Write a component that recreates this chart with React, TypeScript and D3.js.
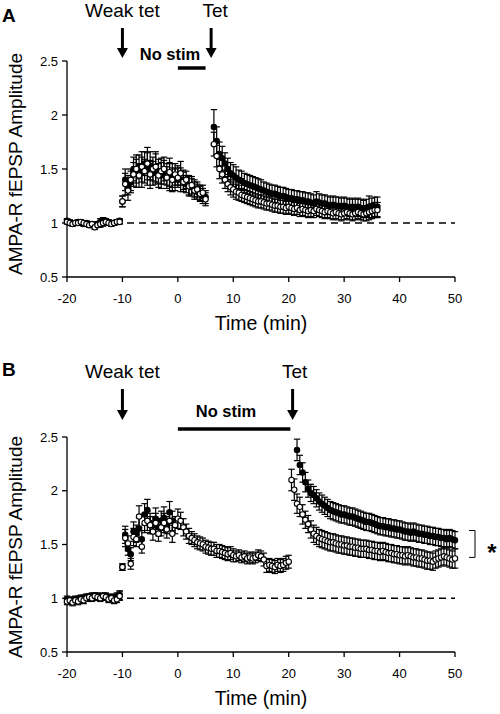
import React from "react";
import * as d3 from "d3";

// ---------- DATA ----------
const xTicks = [-20, -10, 0, 10, 20, 30, 40, 50];
const yTicks = [0.5, 1, 1.5, 2, 2.5];
const yTickLabels = ["0.5", "1", "1.5", "2", "2.5"];

// Panel A segments (0.5-min sampling)
const aBaseStart = -20, aBaseEnd = -10.5;
const aWeakStart = -10, aWeakEnd = 5;
const aTetStart = 6.5, aTetEnd = 36;

const aBaseOpen = [1.01, 1.0, 0.99, 1.0, 1.0, 1.01, 1.0, 0.99, 0.98, 0.99, 0.96, 0.98, 0.99, 1.0, 1.01, 1.0, 0.99, 1.0, 1.01, 1.01];
const aBaseFilled = [1.02, 1.01, 1.0, 1.0, 1.01, 1.0, 0.99, 1.0, 0.99, 0.98, 0.98, 0.99, 1.01, 1.02, 1.02, 1.01, 1.0, 1.0, 1.01, 1.02];
const aBaseErr = [0.02, 0.02, 0.02, 0.02, 0.02, 0.02, 0.02, 0.02, 0.02, 0.02, 0.02, 0.02, 0.03, 0.03, 0.02, 0.02, 0.02, 0.02, 0.02, 0.02];

const aWeakOpen = [1.2, 1.36, 1.3, 1.4, 1.45, 1.5, 1.44, 1.52, 1.48, 1.55, 1.45, 1.5, 1.52, 1.44, 1.48, 1.5, 1.42, 1.47, 1.4, 1.45, 1.42, 1.46, 1.38, 1.4, 1.34, 1.35, 1.3, 1.31, 1.27, 1.28, 1.22];
const aWeakFilled = [1.2, 1.4, 1.35, 1.38, 1.5, 1.46, 1.52, 1.47, 1.55, 1.5, 1.53, 1.46, 1.5, 1.48, 1.44, 1.47, 1.45, 1.43, 1.44, 1.4, 1.44, 1.4, 1.4, 1.36, 1.35, 1.33, 1.32, 1.29, 1.28, 1.25, 1.24];
const aWeakErr = [0.05, 0.1, 0.09, 0.1, 0.11, 0.13, 0.11, 0.14, 0.11, 0.15, 0.13, 0.11, 0.14, 0.11, 0.12, 0.11, 0.1, 0.13, 0.11, 0.1, 0.09, 0.11, 0.09, 0.08, 0.09, 0.08, 0.08, 0.07, 0.07, 0.07, 0.06];

const aTetFilled = [
  1.89, 1.76, 1.64, 1.6, 1.55, 1.5, 1.46, 1.44, 1.42, 1.4,
  1.39, 1.37, 1.36, 1.35, 1.34, 1.33, 1.32, 1.31, 1.3, 1.29,
  1.28, 1.27, 1.27, 1.26, 1.25, 1.25, 1.24, 1.23, 1.23, 1.22,
  1.22, 1.21, 1.21, 1.2, 1.2, 1.19, 1.18, 1.2, 1.19, 1.18,
  1.18, 1.17, 1.16, 1.17, 1.16, 1.16, 1.15, 1.16, 1.15, 1.14,
  1.15, 1.14, 1.15, 1.14, 1.13, 1.14, 1.15, 1.14, 1.15, 1.15,
];
const aTetFilledErr = [
  0.16, 0.13, 0.11, 0.11, 0.1, 0.1, 0.1, 0.1, 0.1, 0.09,
  0.09, 0.09, 0.09, 0.09, 0.09, 0.09, 0.09, 0.09, 0.08, 0.08,
  0.08, 0.08, 0.08, 0.08, 0.08, 0.08, 0.08, 0.08, 0.08, 0.08,
  0.08, 0.08, 0.08, 0.08, 0.08, 0.08, 0.08, 0.09, 0.08, 0.08,
  0.08, 0.08, 0.08, 0.08, 0.08, 0.08, 0.08, 0.08, 0.08, 0.08,
  0.08, 0.08, 0.08, 0.08, 0.08, 0.08, 0.1, 0.09, 0.09, 0.09,
];
const aTetOpen = [
  1.73, 1.62, 1.5, 1.45, 1.4, 1.36, 1.33, 1.31, 1.29, 1.28,
  1.26, 1.25, 1.24, 1.23, 1.22, 1.21, 1.2, 1.2, 1.19, 1.18,
  1.18, 1.17, 1.16, 1.16, 1.15, 1.15, 1.14, 1.15, 1.14, 1.13,
  1.14, 1.12, 1.13, 1.12, 1.11, 1.12, 1.11, 1.13, 1.12, 1.11,
  1.1, 1.11, 1.1, 1.09, 1.1, 1.09, 1.08, 1.09, 1.1, 1.09,
  1.08, 1.09, 1.1, 1.09, 1.08, 1.09, 1.1, 1.11, 1.12, 1.12,
];
const aTetOpenErr = [
  0.11, 0.1, 0.09, 0.08, 0.08, 0.07, 0.07, 0.07, 0.07, 0.07,
  0.06, 0.06, 0.06, 0.06, 0.06, 0.06, 0.06, 0.06, 0.06, 0.06,
  0.06, 0.06, 0.06, 0.06, 0.06, 0.06, 0.06, 0.06, 0.06, 0.06,
  0.06, 0.06, 0.06, 0.06, 0.06, 0.06, 0.06, 0.06, 0.06, 0.06,
  0.06, 0.06, 0.06, 0.06, 0.06, 0.06, 0.06, 0.06, 0.06, 0.06,
  0.06, 0.06, 0.06, 0.06, 0.06, 0.07, 0.07, 0.07, 0.07, 0.07,
];

// Panel B segments
const bBaseStart = -20, bBaseEnd = -10.5;
const bWeakStart = -10, bWeakEnd = 20;
const bWeakFilledEnd = -1;
const bTetOpenStart = 20.5, bTetFilledStart = 21.5, bTetEnd = 50;

const bBaseOpen = [0.97, 0.98, 0.96, 0.98, 0.97, 0.99, 0.98, 1.0, 1.01, 1.0, 1.02, 1.01, 1.0, 1.02, 1.01, 0.99, 1.0, 0.98, 0.99, 1.02];
const bBaseFilled = [0.99, 0.98, 0.98, 0.99, 0.99, 1.0, 1.0, 1.01, 1.01, 1.02, 1.01, 1.02, 1.01, 1.01, 1.02, 1.0, 1.01, 1.0, 1.02, 1.03];
const bBaseErr = [0.03, 0.03, 0.03, 0.03, 0.03, 0.03, 0.03, 0.03, 0.03, 0.03, 0.03, 0.03, 0.03, 0.03, 0.03, 0.03, 0.03, 0.03, 0.03, 0.04];

const bWeakOpen = [
  1.29, 1.56, 1.51, 1.32, 1.57, 1.55, 1.76, 1.48, 1.7, 1.72,
  1.68, 1.62, 1.7, 1.6, 1.66, 1.7, 1.64, 1.72, 1.6, 1.68,
  1.74, 1.72, 1.66, 1.62, 1.58, 1.56, 1.54, 1.52, 1.51, 1.5,
  1.48, 1.47, 1.46, 1.46, 1.44, 1.44, 1.43, 1.42, 1.41, 1.42,
  1.4, 1.39, 1.4, 1.38, 1.39, 1.37, 1.38, 1.37, 1.38, 1.4,
  1.39, 1.36, 1.3, 1.31, 1.3, 1.29, 1.31, 1.3, 1.31, 1.33,
  1.34,
];
const bWeakOpenErr = [
  0.03, 0.08, 0.07, 0.05, 0.08, 0.07, 0.1, 0.06, 0.09, 0.09,
  0.08, 0.08, 0.09, 0.07, 0.08, 0.09, 0.08, 0.09, 0.08, 0.08,
  0.09, 0.08, 0.08, 0.07, 0.07, 0.06, 0.06, 0.06, 0.06, 0.06,
  0.06, 0.06, 0.06, 0.06, 0.06, 0.06, 0.06, 0.06, 0.06, 0.06,
  0.06, 0.05, 0.05, 0.05, 0.05, 0.05, 0.05, 0.05, 0.05, 0.05,
  0.05, 0.06, 0.06, 0.06, 0.06, 0.06, 0.06, 0.06, 0.06, 0.06,
  0.06,
];
const bWeakFilled = [1.29, 1.59, 1.46, 1.41, 1.62, 1.6, 1.65, 1.55, 1.78, 1.82, 1.7, 1.68, 1.74, 1.66, 1.72, 1.75, 1.68, 1.8, 1.72];
const bWeakFilledErr = [0.03, 0.08, 0.06, 0.06, 0.09, 0.08, 0.1, 0.08, 0.1, 0.1, 0.09, 0.08, 0.1, 0.08, 0.09, 0.1, 0.08, 0.1, 0.09];

const bTetOpen = [
  2.1, 2.01, 1.88, 1.85, 1.78, 1.73, 1.69, 1.64, 1.6, 1.58,
  1.56, 1.55, 1.54, 1.53, 1.52, 1.52, 1.51, 1.5, 1.5, 1.49,
  1.49, 1.48, 1.48, 1.47, 1.47, 1.46, 1.46, 1.46, 1.45, 1.45,
  1.44, 1.44, 1.43, 1.44, 1.43, 1.42, 1.42, 1.41, 1.41, 1.4,
  1.4, 1.39, 1.4, 1.39, 1.38, 1.38, 1.37, 1.37, 1.36, 1.35,
  1.35, 1.34, 1.36, 1.37, 1.38, 1.39, 1.38, 1.37, 1.36, 1.37,
];
const bTetOpenErr = [
  0.1, 0.1, 0.09, 0.09, 0.09, 0.08, 0.08, 0.08, 0.08, 0.08,
  0.08, 0.08, 0.08, 0.08, 0.08, 0.08, 0.08, 0.08, 0.08, 0.08,
  0.08, 0.08, 0.08, 0.08, 0.08, 0.08, 0.08, 0.08, 0.08, 0.08,
  0.08, 0.08, 0.08, 0.08, 0.08, 0.08, 0.08, 0.08, 0.08, 0.08,
  0.08, 0.08, 0.08, 0.08, 0.08, 0.08, 0.08, 0.08, 0.08, 0.08,
  0.08, 0.08, 0.08, 0.08, 0.08, 0.08, 0.08, 0.08, 0.08, 0.09,
];
const bTetFilled = [
  2.38, 2.24, 2.17, 2.08, 2.02, 1.98, 1.96, 1.93, 1.9, 1.88,
  1.86, 1.84, 1.82, 1.81, 1.8, 1.79, 1.78, 1.78, 1.77, 1.76,
  1.76, 1.75, 1.74, 1.73, 1.72, 1.71, 1.71, 1.7, 1.69, 1.68,
  1.67, 1.67, 1.66, 1.66, 1.65, 1.65, 1.64, 1.64, 1.63, 1.62,
  1.62, 1.61, 1.62, 1.61, 1.6, 1.6, 1.59, 1.59, 1.58, 1.58,
  1.57, 1.57, 1.56, 1.56, 1.55, 1.56, 1.55, 1.54,
];
const bTetFilledErr = [
  0.1, 0.09, 0.09, 0.09, 0.08, 0.08, 0.08, 0.08, 0.08, 0.08,
  0.08, 0.08, 0.08, 0.08, 0.08, 0.08, 0.08, 0.08, 0.08, 0.08,
  0.08, 0.08, 0.08, 0.08, 0.08, 0.08, 0.08, 0.08, 0.08, 0.08,
  0.08, 0.08, 0.08, 0.08, 0.08, 0.08, 0.08, 0.08, 0.08, 0.08,
  0.08, 0.08, 0.08, 0.08, 0.08, 0.08, 0.08, 0.08, 0.08, 0.08,
  0.08, 0.08, 0.08, 0.08, 0.08, 0.08, 0.08, 0.08,
];

// Annotation times (min)
const aWeakTetTime = -10, aTetTime = 6;
const aNoStim = [0, 5];
const bWeakTetTime = -10, bTetTime = 20.7;
const bNoStim = [0, 20.3];
const bBracket = [1.38, 1.63];

// ---------- HELPERS ----------
type Pt = { t: number; v: number; e: number };
function seg(start: number, end: number, vals: number[], errs: number[]): Pt[] {
  const ts = d3.range(start, end + 0.001, 0.5);
  return vals.map((v, i) => ({ t: ts[i], v, e: errs[i] }));
}

const FONT = "Liberation Sans, Arial, sans-serif";

function Arrow({ x, y1, y2 }: { x: number; y1: number; y2: number }) {
  const head = 10;
  return (
    <g>
      <line x1={x} x2={x} y1={y1} y2={y2 - head + 1} stroke="#000" strokeWidth={3} />
      <path d={`M${x - 5.5},${y2 - head} L${x + 5.5},${y2 - head} L${x},${y2} Z`} fill="#000" />
    </g>
  );
}

function Series({ data, x, y, filled }: { data: Pt[]; x: any; y: any; filled: boolean }) {
  return (
    <g>
      {data.map((d, i) => (
        <g key={"e" + i} stroke="#000" strokeWidth={1.2}>
          <line x1={x(d.t)} x2={x(d.t)} y1={y(d.v - d.e)} y2={y(d.v + d.e)} />
          <line x1={x(d.t) - 3.2} x2={x(d.t) + 3.2} y1={y(d.v + d.e)} y2={y(d.v + d.e)} />
          <line x1={x(d.t) - 3.2} x2={x(d.t) + 3.2} y1={y(d.v - d.e)} y2={y(d.v - d.e)} />
        </g>
      ))}
      {data.map((d, i) => (
        <circle key={"c" + i} cx={x(d.t)} cy={y(d.v)} r={2.7} fill={filled ? "#000" : "#fff"} stroke="#000" strokeWidth={1.1} />
      ))}
    </g>
  );
}

function Axes({ x, y, titleY }: { x: any; y: any; titleY: number }) {
  const [x0, x1] = x.range();
  const [yb, yt] = y.range();
  return (
    <g fontFamily={FONT}>
      <line x1={x0} x2={x0} y1={yt} y2={yb} stroke="#000" strokeWidth={1.3} />
      <line x1={x0} x2={x1} y1={yb} y2={yb} stroke="#000" strokeWidth={1.3} />
      {yTicks.map((t, i) => (
        <g key={"y" + t}>
          <line x1={x0 - 5} x2={x0} y1={y(t)} y2={y(t)} stroke="#000" strokeWidth={1.3} />
          <text x={x0 - 9} y={y(t) + 4.5} textAnchor="end" fontSize={13}>{yTickLabels[i]}</text>
        </g>
      ))}
      {xTicks.map((t) => (
        <g key={"x" + t}>
          <line x1={x(t)} x2={x(t)} y1={yb} y2={yb + 5} stroke="#000" strokeWidth={1.3} />
          <text x={x(t)} y={yb + 26} textAnchor="middle" fontSize={13}>{t}</text>
        </g>
      ))}
      <line x1={x(-20)} x2={x(50)} y1={y(1)} y2={y(1)} stroke="#000" strokeWidth={1.5} strokeDasharray="7,5" />
      <text x={(x0 + x1) / 2} y={yb + 53} textAnchor="middle" fontSize={19.5}>Time (min)</text>
      <text transform={`translate(22,${titleY}) rotate(-90)`} textAnchor="middle" fontSize={19}>AMPA-R fEPSP Amplitude</text>
    </g>
  );
}

export default function App() {
  const x = d3.scaleLinear().domain([-20, 50]).range([67, 455]);
  const yA = d3.scaleLinear().domain([0.5, 2.5]).range([277, 61]);
  const yB = d3.scaleLinear().domain([0.5, 2.5]).range([652, 437]);

  const aFilled = [
    seg(aBaseStart, aBaseEnd, aBaseFilled, aBaseErr),
    seg(aWeakStart, aWeakEnd, aWeakFilled, aWeakErr),
    seg(aTetStart, aTetEnd, aTetFilled, aTetFilledErr),
  ];
  const aOpen = [
    seg(aBaseStart, aBaseEnd, aBaseOpen, aBaseErr),
    seg(aWeakStart, aWeakEnd, aWeakOpen, aWeakErr),
    seg(aTetStart, aTetEnd, aTetOpen, aTetOpenErr),
  ];
  const bFilled = [
    seg(bBaseStart, bBaseEnd, bBaseFilled, bBaseErr),
    seg(bWeakStart, bWeakFilledEnd, bWeakFilled, bWeakFilledErr),
    seg(bTetFilledStart, bTetEnd, bTetFilled, bTetFilledErr),
  ];
  const bOpen = [
    seg(bBaseStart, bBaseEnd, bBaseOpen, bBaseErr),
    seg(bWeakStart, bWeakEnd, bWeakOpen, bWeakOpenErr),
    seg(bTetOpenStart, bTetEnd, bTetOpen, bTetOpenErr),
  ];

  return (
    <svg width={500} height={714} style={{ position: "absolute", left: 0, top: 0, background: "#fff" }} fontFamily={FONT}>
      <rect width={500} height={714} fill="#fff" />
      {/* Panel A */}
      <text x={2} y={22} fontSize={19} fontWeight="bold">A</text>
      <text x={x(aWeakTetTime)} y={17} textAnchor="middle" fontSize={19}>Weak tet</text>
      <text x={x(aTetTime) + 4} y={17} textAnchor="middle" fontSize={19}>Tet</text>
      <Arrow x={x(aWeakTetTime)} y1={28} y2={58} />
      <Arrow x={x(aTetTime)} y1={28} y2={58} />
      <text x={170} y={60} textAnchor="middle" fontSize={16.5} fontWeight="bold">No stim</text>
      <line x1={x(aNoStim[0])} x2={x(aNoStim[1])} y1={68} y2={68} stroke="#000" strokeWidth={3.5} />
      <Axes x={x} y={yA} titleY={164} />
      {aFilled.map((s, i) => <Series key={"af" + i} data={s} x={x} y={yA} filled={true} />)}
      {aOpen.map((s, i) => <Series key={"ao" + i} data={s} x={x} y={yA} filled={false} />)}

      {/* Panel B */}
      <text x={2} y={376} fontSize={19} fontWeight="bold">B</text>
      <text x={x(bWeakTetTime)} y={378} textAnchor="middle" fontSize={19}>Weak tet</text>
      <text x={x(bTetTime) + 2} y={378} textAnchor="middle" fontSize={19}>Tet</text>
      <Arrow x={x(bWeakTetTime)} y1={389} y2={420} />
      <Arrow x={x(bTetTime)} y1={389} y2={420} />
      <text x={226} y={417} textAnchor="middle" fontSize={16.5} fontWeight="bold">No stim</text>
      <line x1={x(bNoStim[0])} x2={x(bNoStim[1])} y1={429} y2={429} stroke="#000" strokeWidth={3.5} />
      <Axes x={x} y={yB} titleY={547} />
      {bFilled.map((s, i) => <Series key={"bf" + i} data={s} x={x} y={yB} filled={true} />)}
      {bOpen.map((s, i) => <Series key={"bo" + i} data={s} x={x} y={yB} filled={false} />)}
      <path
        d={`M469,${yB(bBracket[1])} L475,${yB(bBracket[1])} L475,${yB(bBracket[0])} L469,${yB(bBracket[0])}`}
        fill="none"
        stroke="#000"
        strokeWidth={1}
      />
      <text x={492} y={561} textAnchor="middle" fontSize={24} fontWeight="bold">*</text>
    </svg>
  );
}
